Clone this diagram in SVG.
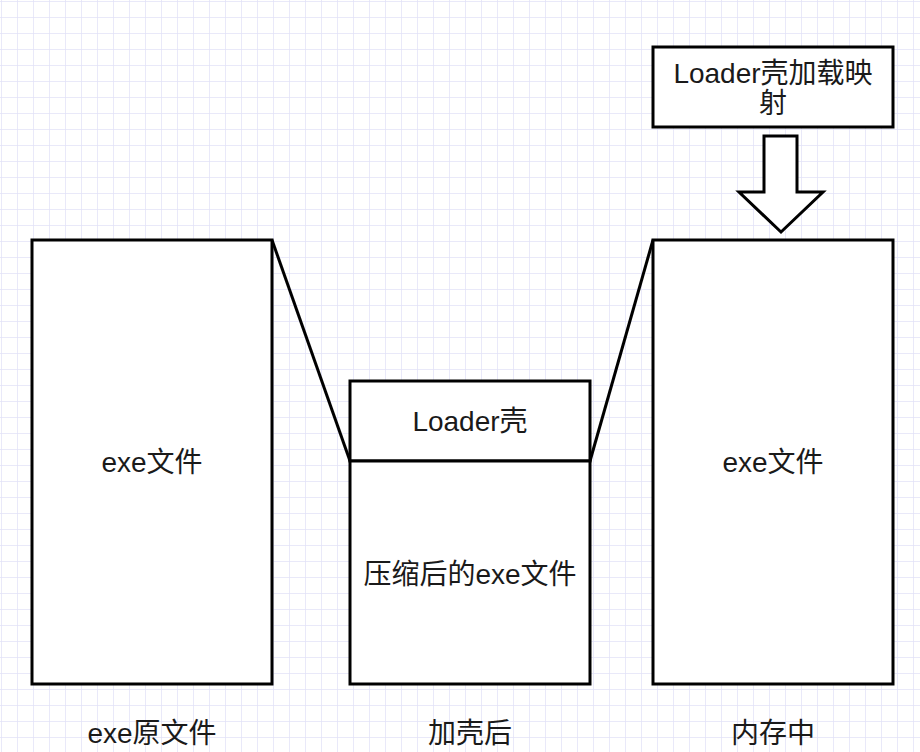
<svg xmlns="http://www.w3.org/2000/svg" width="920" height="752" viewBox="0 0 920 752">
<defs>
<pattern id="grid" x="1" y="1" width="16" height="16" patternUnits="userSpaceOnUse">
<path d="M0 0H16M0 0V16" fill="none" stroke="#e2e2f8" stroke-width="1.5"/>
</pattern>
<style>
.box{fill:#fff;stroke:#000;stroke-width:3}
.ln{fill:none;stroke:#000;stroke-width:3}
.t{font-family:"Liberation Sans","Noto Sans CJK SC",sans-serif;font-size:28px;fill:#1a1a1a;text-anchor:middle;dominant-baseline:central}
</style>
</defs>
<rect width="920" height="752" fill="#fff"/>
<rect width="920" height="752" fill="url(#grid)"/>
<g id="connectors">
<path class="ln" d="M272 240L350 461"/>
<path class="ln" d="M590 461L653 240"/>
<path class="box" d="M764 136H797V192H823L781 232L739 192H764Z"/>
</g>
<g id="node-loader-map">
<rect class="box" x="653" y="47" width="240" height="80"/>
<text class="t" x="773" y="73">Loader壳加载映</text>
<text class="t" x="773" y="103">射</text>
</g>
<g id="node-exe-orig">
<rect class="box" x="32" y="240" width="240" height="444"/>
<text class="t" x="152" y="462">exe文件</text>
</g>
<g id="node-loader-shell">
<rect class="box" x="350" y="381" width="240" height="80"/>
<text class="t" x="470" y="421">Loader壳</text>
</g>
<g id="node-compressed">
<rect class="box" x="350" y="461" width="240" height="223"/>
<text class="t" x="470" y="574">压缩后的exe文件</text>
</g>
<g id="node-memory">
<rect class="box" x="653" y="240" width="240" height="444"/>
<text class="t" x="773" y="462">exe文件</text>
</g>
<g id="labels">
<text class="t" x="152" y="733">exe原文件</text>
<text class="t" x="470" y="733">加壳后</text>
<text class="t" x="773" y="733">内存中</text>
</g>
</svg>
